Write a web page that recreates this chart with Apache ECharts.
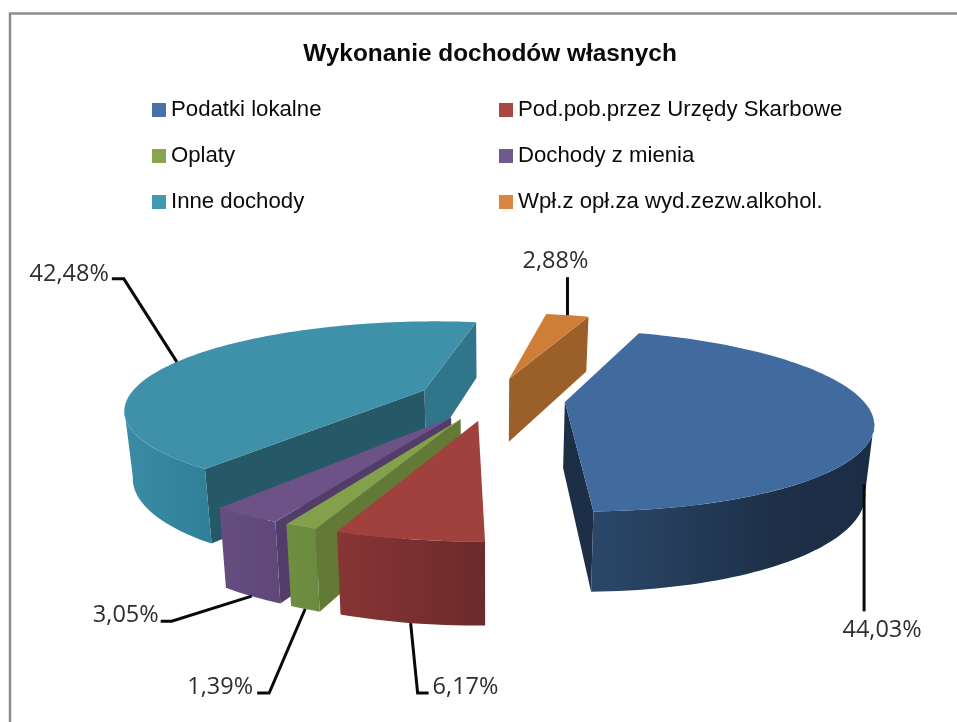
<!DOCTYPE html>
<html>
<head>
<meta charset="utf-8">
<style>html,body{margin:0;padding:0;background:#fff}#c{width:957px;height:722px}</style>
<script src="https://cdn.jsdelivr.net/npm/echarts@6/dist/echarts.min.js"></script>
</head>
<body>
<div id="c"></div>
<script>
// ---- data ----
const categories = ['Podatki lokalne','Pod.pob.przez Urzędy Skarbowe','Oplaty','Dochody z mienia','Inne dochody','Wpł.z opł.za wyd.zezw.alkohol.'];
const shares = [44.03, 6.17, 1.39, 3.05, 42.48, 2.88];
const chartTitle = 'Wykonanie dochodów własnych';

// ---- styles ----
const legendColors = ['#4672a8','#aa4643','#89a54e','#71588f','#4198af','#db843d'];
const topColors    = ['#416b9e','#a1413e','#83a04a','#6d5288','#3f90a9','#cf7e38'];
const startFaceColors = ['#1c2f47','#752e2d','#637a36','#523d6a','#265968','#9b5f2a'];
const endFaceColors   = ['#1c2f47','#752e2d','#637a36','#523d6a','#30758a','#9b5f2a'];
const sideGradients = [
  [[0,'#2b4869'],[0.65,'#1d3048'],[1,'#1b2d45']],
  [[0,'#873535'],[1,'#6c2a2a']],
  [[0,'#6f8e40'],[1,'#6c8a3e']],
  [[0,'#654d80'],[1,'#5f4878']],
  [[0,'#3a8ca4'],[1,'#2f7f98']],
  [[0,'#9b5f2a'],[1,'#9b5f2a']]
];
const paintOrder = [4,5,0,3,2,1];

// ---- projection of the tilted, exploded pie ----
const view = {cx:491.2, cy:398.5, R:297, explode:74, firstAngle:20, k:0.289, u:0.00068, shrink:0.023, depth:66, depthSlope:0.13, depthRef:402};
function project(x, y, level){
  const s = 1/(1 + y*view.u);
  const X = view.cx + x*s, Y = view.cy - y*view.k*s;
  return [view.cx + (X-view.cx)*(1-view.shrink*level), Y + level*(view.depth + view.depthSlope*(Y-view.depthRef))];
}
const rad = d => d*Math.PI/180;
const total = shares.reduce((a,b)=>a+b,0);
function angles(i){
  let a = view.firstAngle;
  for(let j=0;j<i;j++) a += shares[j]/total*360;
  return [a, a+shares[i]/total*360];
}
function slicePoint(i, ang, frac, level){
  const [a0,a1] = angles(i), mid = (a0+a1)/2;
  return project(view.explode*Math.sin(rad(mid)) + view.R*frac*Math.sin(rad(ang)),
                 view.explode*Math.cos(rad(mid)) + view.R*frac*Math.cos(rad(ang)), level);
}
function arc(i, from, to, level){
  const n = Math.max(2, Math.ceil((to-from)/1.5)), pts=[];
  for(let t=0;t<=n;t++) pts.push(slicePoint(i, from+(to-from)*t/n, 1, level));
  return pts;
}
const cross = (p,q,r)=>(q[0]-p[0])*(r[1]-q[1])-(q[1]-p[1])*(r[0]-q[0]);

// ---- value labels: leader offsets from the slice anchor ----
const leaderLayout = [
  {level:1, angleShift:0, elbow:[0,60], end:[0,127], label:[18,19], align:'center'},
  {level:1, angleShift:0, elbow:[7,70], end:[18,70], label:[4,-6], align:'left'},
  {level:1, angleShift:0, elbow:[-36,84], end:[-48,84], label:[-4,-6], align:'right'},
  {level:1, angleShift:0, elbow:[-80,25], end:[-91,25], label:[-2,-6], align:'right'},
  {level:0, angleShift:-1.5, elbow:[-53,-83], end:[-65,-83], label:[-3,-5], align:'right'},
  {level:0, angleShift:0, elbow:[0,-19], end:[0,-38], label:[-12,-16], align:'center'}
];

function renderSlice(i){
  return function(){
    const [a0,a1] = angles(i), kids=[];
    const poly = (points, fill) => kids.push({type:'polygon', shape:{points}, style:{fill, stroke:null}});
    const apexT = slicePoint(i,a0,0,0), apexB = slicePoint(i,a0,0,1);
    const sT = slicePoint(i,a0,1,0), sB = slicePoint(i,a0,1,1);
    const eT = slicePoint(i,a1,1,0), eB = slicePoint(i,a1,1,1);
    if(cross(apexT,sT,sB) < 0) poly([apexT,sT,sB,apexB], startFaceColors[i]);
    if(cross(apexT,eT,eB) > 0) poly([apexT,eT,eB,apexB], endFaceColors[i]);
    const from = Math.max(a0,103), to = Math.min(a1,257);
    if(to > from){
      const top = arc(i,from,to,0), bot = arc(i,from,to,1).reverse();
      const g = new echarts.graphic.LinearGradient(0,0,1,0, sideGradients[i].map(s=>({offset:s[0],color:s[1]})));
      poly(top.concat(bot), g);
    }
    poly([apexT].concat(arc(i,a0,a1,0)), topColors[i]);
    const L = leaderLayout[i], m = (a0+a1)/2 + L.angleShift, A = slicePoint(i,m,1,L.level);
    const at = o => [A[0]+o[0], A[1]+o[1]];
    const E = at(L.end);
    kids.push({type:'polyline', shape:{points:[A, at(L.elbow), E]}, style:{stroke:'#0a0a0a', lineWidth:3, fill:null}});
    kids.push({type:'text', style:{text:shares[i].toFixed(2).replace('.',',')+'%', x:E[0]+L.label[0], y:E[1]+L.label[1],
      font:'23.5px "Open Sans"', fill:'#2e2e2e', textAlign:L.align, textVerticalAlign:'middle', verticalAlign:'middle'}});
    return {type:'group', children:kids};
  };
}

const legendBase = {orient:'vertical', itemWidth:14, itemHeight:14, itemGap:24, selectedMode:false, icon:'rect',
  textStyle:{fontFamily:'Liberation Sans', fontSize:22.2, color:'#0a0a0a', padding:0}, padding:0};
const chart = echarts.init(document.getElementById('c'), null, {renderer:'canvas'});
chart.setOption({
  animation:false,
  backgroundColor:'#fff',
  title:{text:chartTitle, left:490, top:54, textAlign:'center', textVerticalAlign:'middle', padding:0,
    textStyle:{fontFamily:'Liberation Sans', fontWeight:'bold', fontSize:24.4, color:'#0a0a0a'}},
  legend:[
    Object.assign({}, legendBase, {left:152, top:99, data:[categories[0],categories[2],categories[4]]}),
    Object.assign({}, legendBase, {left:499, top:99, data:[categories[1],categories[3],categories[5]]})
  ],
  graphic:[{type:'rect', silent:true, z:-1, shape:{x:10,y:13.5,width:1100,height:1100}, style:{fill:'#fff',stroke:'#8e8e8e',lineWidth:2.5}}],
  series: paintOrder.map(i=>({
    type:'custom', name:categories[i], coordinateSystem:'none', silent:true,
    itemStyle:{color:legendColors[i]},
    data:[[shares[i]]],
    renderItem:renderSlice(i)
  }))
});
</script>
</body>
</html>
